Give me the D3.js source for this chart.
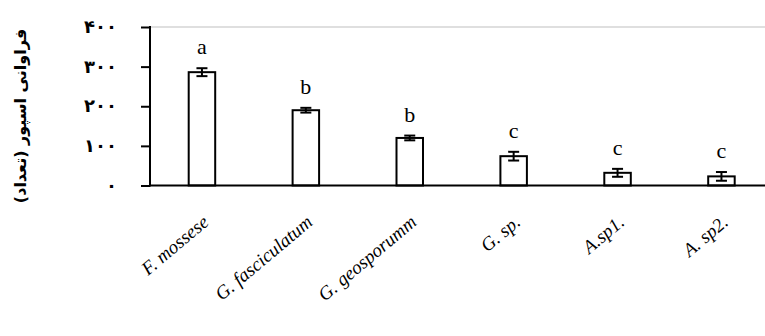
<!DOCTYPE html>
<html>
<head>
<meta charset="utf-8">
<script src="https://cdn.jsdelivr.net/npm/d3@7"></script>
<style>
  body { margin: 0; background: #fff; }
  svg { display: block; }
</style>
</head>
<body>
<div id="chart"></div>
<script>
var width = 765;
var height = 336;

// data
var categories = ['F. mossese', 'G. fasciculatum', 'G. geosporumm', 'G. sp.', 'A.sp1.', 'A. sp2.'];
var values = [286, 190, 120, 74, 32, 23];
var errors = [10, 6, 6, 11, 10, 11];
var letters = ['a', 'b', 'b', 'c', 'c', 'c'];
var yTicks = [0, 100, 200, 300, 400];
var yTickLabels = ['۰', '۱۰۰', '۲۰۰', '۳۰۰', '۴۰۰'];
var yTitle = 'فراوانی اسپور (تعداد)';

var labelAngle = -40;

var svg = d3.select('#chart').append('svg')
  .attr('width', width)
  .attr('height', height);

var x = d3.scaleBand()
  .domain(categories)
  .range([150, 773.4])
  .paddingInner(0.745)
  .paddingOuter(0.3725);

var y = d3.scaleLinear()
  .domain([0, 400])
  .range([185.5, 27]);

// faint top border of the plot area
svg.append('line')
  .attr('x1', 150).attr('x2', width)
  .attr('y1', y(400)).attr('y2', y(400))
  .attr('stroke', '#d4d4d4')
  .attr('stroke-width', 1.5);

// y axis
var yAxis = d3.axisLeft(y)
  .tickValues(yTicks)
  .tickSize(9)
  .tickPadding(0)
  .tickFormat(function (d, i) { return ''; });

var yAxisGroup = svg.append('g')
  .attr('transform', 'translate(150,0)')
  .call(yAxis);
yAxisGroup.select('.domain').remove();
yAxisGroup.selectAll('.tick line')
  .attr('stroke', '#000')
  .attr('stroke-width', 2);

svg.append('line')
  .attr('x1', 150).attr('x2', 150)
  .attr('y1', y(400) - 1).attr('y2', y(0) + 1)
  .attr('stroke', '#000')
  .attr('stroke-width', 2);

svg.selectAll('.ylab')
  .data(yTicks)
  .enter()
  .append('text')
  .attr('class', 'ylab')
  .attr('x', 117)
  .attr('y', function (d) { return y(d) + 6; })
  .attr('text-anchor', 'end')
  .attr('direction', 'ltr')
  .style('font-family', '"DejaVu Sans", sans-serif')
  .style('font-weight', 'bold')
  .style('font-size', '18px')
  .text(function (d, i) { return yTickLabels[i]; });

// bars
svg.selectAll('.bar')
  .data(values)
  .enter()
  .append('rect')
  .attr('class', 'bar')
  .attr('x', function (d, i) { return x(categories[i]); })
  .attr('y', function (d) { return y(d); })
  .attr('width', x.bandwidth())
  .attr('height', function (d) { return y(0) - y(d); })
  .attr('fill', '#fff')
  .attr('stroke', '#000')
  .attr('stroke-width', 2);

// error bars
var err = svg.selectAll('.err')
  .data(values)
  .enter()
  .append('g')
  .attr('class', 'err')
  .attr('transform', function (d, i) {
    return 'translate(' + (x(categories[i]) + x.bandwidth() / 2) + ',0)';
  });

err.append('line')
  .attr('x1', 0).attr('x2', 0)
  .attr('y1', function (d, i) { return y(d + errors[i]); })
  .attr('y2', function (d, i) { return y(d - errors[i]); })
  .attr('stroke', '#000').attr('stroke-width', 2);
err.append('line')
  .attr('x1', -5.5).attr('x2', 5.5)
  .attr('y1', function (d, i) { return y(d + errors[i]); })
  .attr('y2', function (d, i) { return y(d + errors[i]); })
  .attr('stroke', '#000').attr('stroke-width', 2);
err.append('line')
  .attr('x1', -5.5).attr('x2', 5.5)
  .attr('y1', function (d, i) { return y(d - errors[i]); })
  .attr('y2', function (d, i) { return y(d - errors[i]); })
  .attr('stroke', '#000').attr('stroke-width', 2);

// significance letters
svg.selectAll('.letter')
  .data(values)
  .enter()
  .append('text')
  .attr('class', 'letter')
  .attr('x', function (d, i) { return x(categories[i]) + x.bandwidth() / 2; })
  .attr('y', function (d, i) { return y(d + errors[i]) - 14; })
  .attr('text-anchor', 'middle')
  .style('font-family', '"Liberation Serif", "Times New Roman", serif')
  .style('font-size', '22px')
  .text(function (d, i) { return letters[i]; });

// x axis line
svg.append('line')
  .attr('x1', 149).attr('x2', width)
  .attr('y1', y(0)).attr('y2', y(0))
  .attr('stroke', '#000')
  .attr('stroke-width', 2);

// category labels, slanted
svg.selectAll('.xlab')
  .data(categories)
  .enter()
  .append('text')
  .attr('class', 'xlab')
  .attr('transform', function (d) {
    var tx = x(d) + x.bandwidth() / 2 + 8;
    return 'translate(' + tx + ',224) rotate(' + labelAngle + ')';
  })
  .attr('text-anchor', 'end')
  .style('font-family', '"Liberation Serif", "Times New Roman", serif')
  .style('font-style', 'italic')
  .style('font-size', '19px')
  .text(function (d) { return d; });

// y title
svg.append('text')
  .attr('transform', 'translate(26,116) rotate(-90)')
  .attr('text-anchor', 'middle')
  .style('font-family', '"DejaVu Sans", sans-serif')
  .style('font-weight', 'bold')
  .style('font-size', '16px')
  .text(yTitle);
</script>
</body>
</html>
